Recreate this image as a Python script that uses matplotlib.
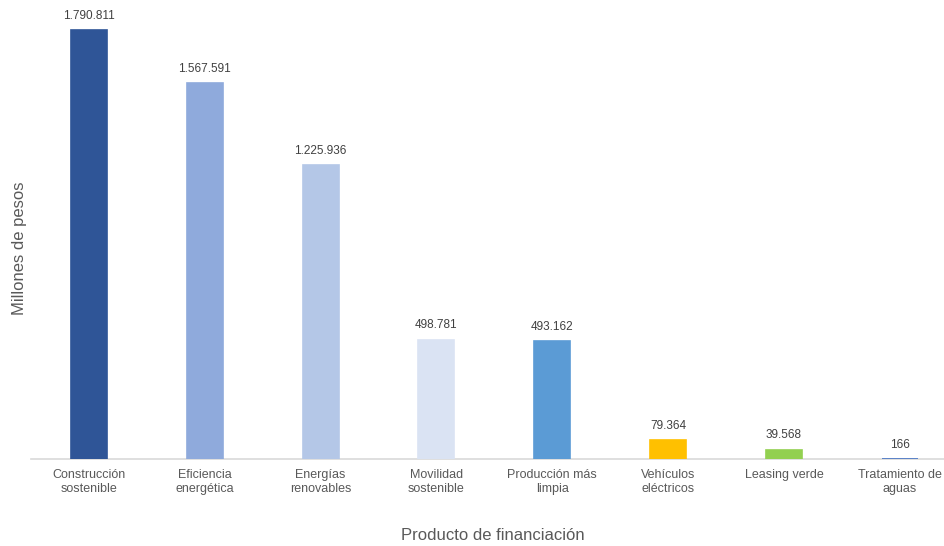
import matplotlib.pyplot as plt
import numpy as np

plt.rcParams['font.family'] = ['Liberation Sans', 'DejaVu Sans']

categorias = ['Construcción\nsostenible', 'Eficiencia\nenergética', 'Energías\nrenovables',
              'Movilidad\nsostenible', 'Producción más\nlimpia', 'Vehículos\neléctricos',
              'Leasing verde', 'Tratamiento de\naguas']
valores = [1790811, 1567591, 1225936, 498781, 493162, 79364, 39568, 166]
etiquetas = ['1.790.811', '1.567.591', '1.225.936', '498.781', '493.162', '79.364', '39.568', '166']
colores = ['#2F5597', '#8FAADC', '#B4C7E7', '#DAE3F3', '#5B9BD5', '#FFC000', '#92D050', '#4472C4']

gris = '#595959'

fig = plt.figure(figsize=(9.45, 5.46), dpi=100)
ax = fig.add_axes([31 / 945, 87 / 546, 914 / 945, 459 / 546])

x = np.arange(len(valores))
# borde del mismo color para que la barra de 166 se vea como en el original
bars = ax.bar(x, valores, width=0.31, color=colores, edgecolor=colores, linewidth=1.2)
for b, lab in zip(bars, etiquetas):
    ax.annotate(lab, (b.get_x() + b.get_width() / 2, b.get_height()),
                xytext=(0, 6), textcoords='offset points',
                ha='center', va='bottom', fontsize=8.5, color='#404040')

ax.set_xlim(-0.5, 7.39)
ax.set_ylim(0, 1916000)
ax.set_xticks(x)
ax.set_xticklabels(categorias, fontsize=9, color=gris, linespacing=1.25)
ax.tick_params(axis='x', length=0, pad=7)
ax.set_yticks([])
for s in ['top', 'right', 'left']:
    ax.spines[s].set_visible(False)
ax.spines['bottom'].set_color('#D9D9D9')
ax.spines['bottom'].set_linewidth(1.2)
ax.spines['bottom'].set_zorder(0.5)

fig.text(493 / 945, 1 - 536 / 546, 'Producto de financiación', ha='center', va='center',
         fontsize=12, color=gris)
fig.text(20 / 945, 1 - 248 / 546, 'Millones de pesos', ha='center', va='center',
         rotation=90, fontsize=12, color=gris)

fig.savefig('out.png', dpi=100)
